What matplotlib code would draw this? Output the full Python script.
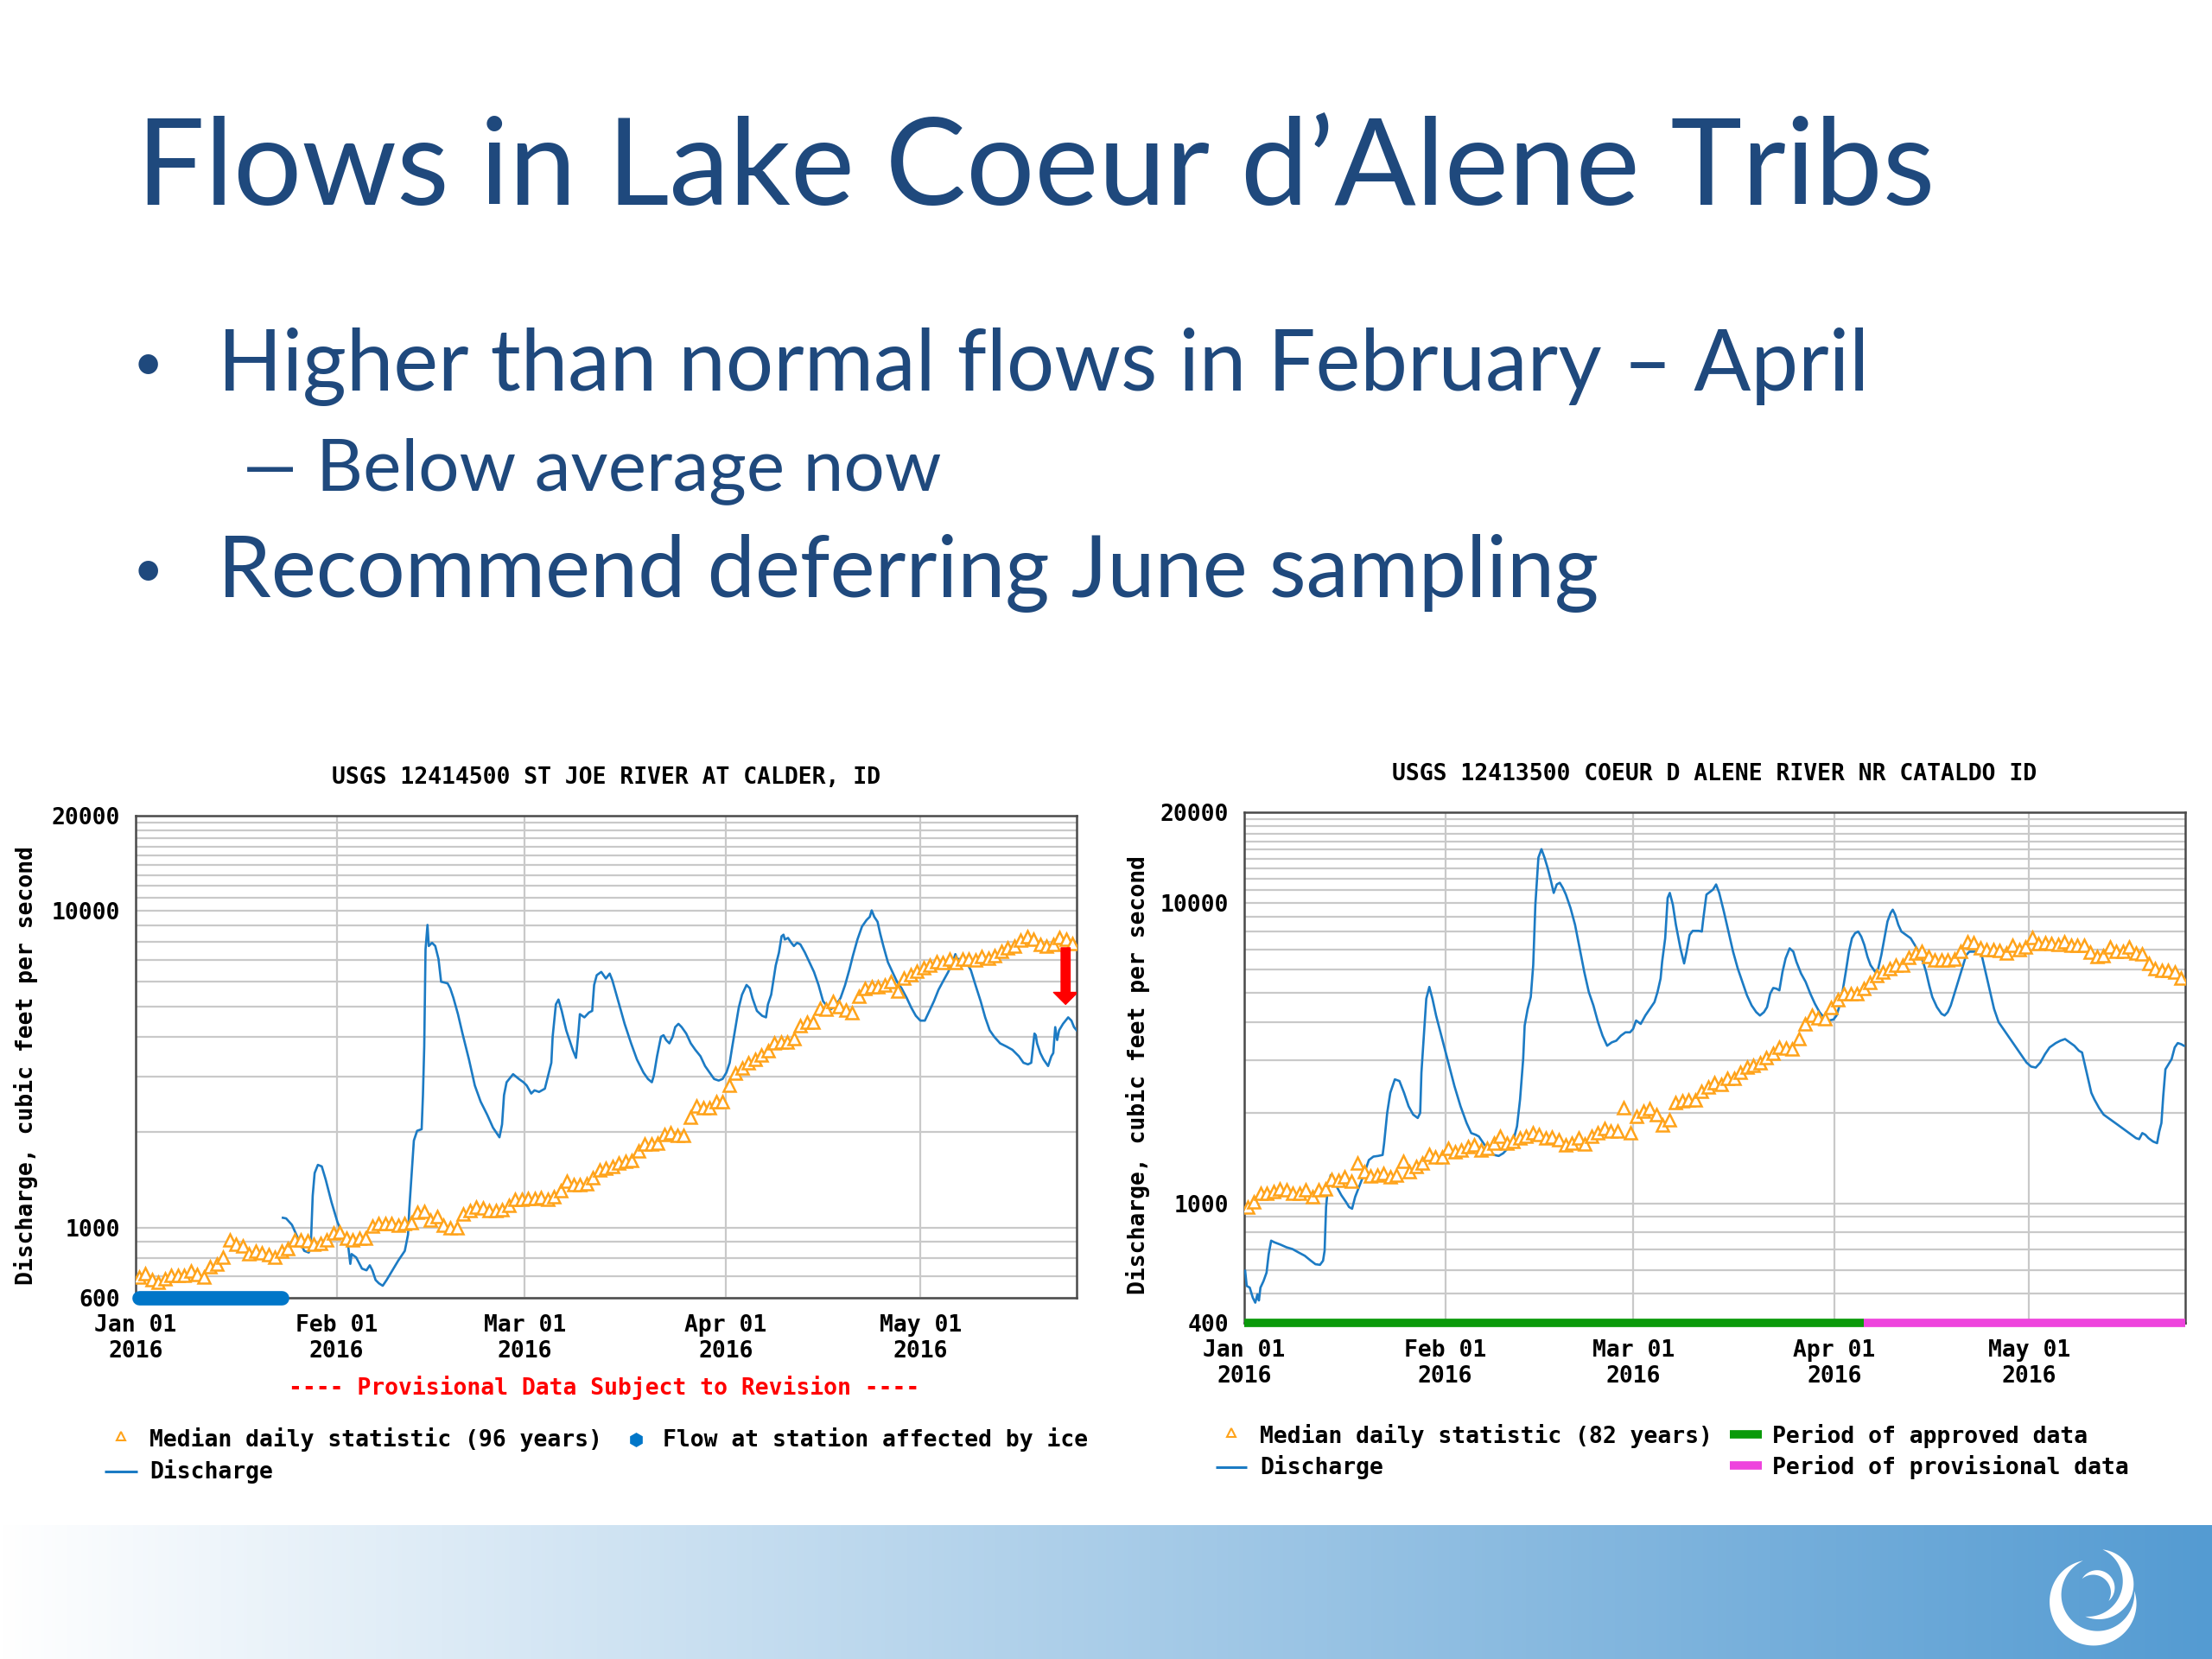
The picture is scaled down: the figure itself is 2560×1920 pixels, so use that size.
import numpy as np
import matplotlib
matplotlib.use("Agg")
import matplotlib.pyplot as plt
from matplotlib.lines import Line2D
from matplotlib.patches import Polygon, FancyArrowPatch, ArrowStyle
from matplotlib.ticker import NullFormatter

W, H = 2560, 1920

# slide text
SLIDE_TITLE = "Flows in Lake Coeur d\u2019Alene Tribs"
BULLET_1 = "Higher than normal flows in February \u2013 April"
SUB_BULLET = "Below average now"
BULLET_2 = "Recommend deferring June sampling"

# shared time axis (days since Jan 01 2016)
MONTH_DAYS = [0, 31, 60, 91, 121]
MONTH_LABELS = ["Jan 01\n2016", "Feb 01\n2016", "Mar 01\n2016", "Apr 01\n2016", "May 01\n2016"]
LAST_DAY = 145.1

# St Joe River at Calder
STJOE_TITLE = "USGS 12414500 ST JOE RIVER AT CALDER, ID"
STJOE_Q_DAY = [
    22.7, 23.2, 24.1, 25.0, 26.0, 26.7, 27.0, 27.3, 27.6, 28.1,
    28.7, 29.3, 30.2, 31.1, 32.1, 32.8, 33.1, 33.3, 34.0, 34.9,
    35.6, 36.1, 36.5, 37.0, 37.5, 38.1, 38.7, 39.6, 40.5, 41.5,
    42.0, 42.2, 42.5, 42.9, 43.4, 44.1, 44.3, 44.5, 44.7, 45.0,
    45.2, 45.7, 46.2, 46.7, 47.1, 48.1, 48.5, 49.0, 49.7, 50.4,
    51.4, 52.3, 53.2, 54.2, 55.1, 56.1, 56.5, 56.8, 57.2, 58.2,
    59.1, 59.8, 60.3, 61.0, 61.5, 62.2, 63.1, 64.1, 64.3, 64.8,
    65.2, 65.7, 66.4, 67.4, 67.9, 68.3, 68.5, 69.2, 69.9, 70.4,
    70.7, 71.1, 71.8, 72.5, 73.1, 73.5, 74.0, 74.7, 75.4, 76.4,
    77.3, 78.3, 79.0, 79.6, 79.9, 80.4, 81.0, 81.4, 81.8, 82.3,
    82.8, 83.2, 83.7, 84.2, 84.9, 85.6, 86.3, 87.1, 87.8, 88.5,
    89.2, 89.9, 90.5, 91.1, 91.6, 92.0, 92.5, 93.0, 93.5, 94.2,
    94.7, 95.1, 95.8, 96.6, 97.2, 97.5, 98.0, 98.7, 99.2, 99.6,
    99.9, 100.1, 100.6, 101.1, 101.5, 102.0, 102.5, 103.2, 103.9, 104.6,
    105.3, 106.0, 106.8, 107.2, 107.9, 108.7, 109.4, 110.1, 110.6, 111.3,
    112.0, 112.7, 113.2, 113.5, 113.9, 114.4, 114.8, 115.3, 116.0, 116.7,
    117.4, 118.1, 118.9, 119.6, 120.3, 121.0, 121.7, 122.4, 123.1, 123.8,
    124.6, 125.3, 126.0, 126.4, 126.7, 127.4, 128.1, 128.8, 129.5, 130.3,
    131.0, 131.7, 132.4, 133.3, 134.3, 135.2, 136.2, 136.9, 137.6, 138.1,
    138.6, 138.8, 139.0, 139.5, 140.0, 140.7, 141.2, 141.5, 141.8, 142.1,
    142.4, 143.0, 143.8, 144.3, 144.7, 145.1,
]
STJOE_Q = [
    1074, 1069, 1020, 928, 844, 834, 865, 1261, 1487, 1578,
    1560, 1419, 1203, 1044, 928, 865, 768, 825, 805, 742,
    733, 760, 733, 683, 667, 655, 683, 733, 787, 844,
    950, 1147, 1419, 1883, 2021, 2045, 2619, 3730, 7568, 9035,
    7750, 7934, 7750, 7052, 5978, 5908, 5704, 5314, 4722, 4101,
    3395, 2811, 2499, 2274, 2069, 1928, 2118, 2619, 2878, 3052,
    2947, 2878, 2811, 2651, 2714, 2682, 2746, 3316, 4005, 5069,
    5252, 4836, 4198, 3643, 3435, 4198, 4722, 4613, 4778, 4836,
    5839, 6269, 6420, 6120, 6342, 6047, 5569, 4951, 4401, 3819,
    3395, 3089, 2947, 2878, 3017, 3476, 4005, 4052, 3912, 3819,
    4005, 4297, 4401, 4297, 4101, 3819, 3643, 3476, 3238, 3089,
    2947, 2913, 2947, 3089, 3316, 3730, 4297, 4951, 5440, 5839,
    5704, 5314, 4836, 4667, 4613, 5069, 5440, 6727, 7392, 8318,
    8417, 8126, 8222, 7934, 7750, 7934, 7843, 7392, 6888, 6420,
    5839, 5190, 4951, 4893, 5009, 5314, 5839, 6570, 7221, 8126,
    8928, 9359, 9583, 10044, 9583, 9250, 8500, 7750, 6888, 6420,
    5978, 5704, 5314, 4951, 4667, 4505, 4505, 4836, 5190, 5636,
    6047, 6420, 6888, 7306, 7052, 7052, 6888, 6494, 5839, 5190,
    4613, 4198, 4005, 3819, 3730, 3643, 3476, 3316, 3277, 3316,
    4101, 4052, 3819, 3559, 3395, 3238, 3476, 3559, 4297, 3912,
    4198, 4401, 4613, 4505, 4297, 4198,
]
# median daily statistic, one value per day from Jan 01
STJOE_MEDIAN = [
    699, 716, 686, 670, 691, 707, 707, 707, 730, 713,
    696, 750, 765, 805, 917, 885, 875, 825, 844, 834,
    821, 805, 840, 860, 917, 917, 906, 885, 889, 917,
    961, 968, 928, 917, 928, 928, 1008, 1032, 1032, 1032,
    1020, 1032, 1039, 1115, 1126, 1056, 1081, 1020, 996, 996,
    1107, 1134, 1161, 1152, 1134, 1134, 1142, 1175, 1226, 1231,
    1237, 1237, 1246, 1231, 1255, 1306, 1402, 1369, 1369, 1379,
    1435, 1522, 1540, 1560, 1596, 1615, 1634, 1746, 1839, 1839,
    1848, 1964, 1996, 1950, 1950, 2231, 2428, 2394, 2394, 2498,
    2498, 2810, 3074, 3200, 3316, 3395, 3517, 3627, 3819, 3865,
    3865, 3958, 4348, 4452, 4452, 4927, 4892, 5165, 4974, 4858,
    4778, 5377, 5677, 5757, 5771, 5839, 5978, 5597, 6119, 6297,
    6448, 6601, 6760, 6921, 6887, 7052, 6887, 7052, 7052, 7018,
    7186, 7085, 7219, 7479, 7657, 7750, 8086, 8318, 8123, 7843,
    7750, 7843, 8221, 8162, 7897,
]
STJOE_ICE = (0.5, 22.5)
STJOE_ARROW = (143.4, 7650, 5070)

# Coeur d'Alene River near Cataldo
CDA_TITLE = "USGS 12413500 COEUR D ALENE RIVER NR CATALDO ID"
CDA_Q_DAY = [
    0.14, 0.38, 0.85, 1.32, 1.70, 2.03, 2.26, 2.50, 2.97, 3.44,
    3.77, 4.15, 4.62, 5.56, 6.50, 7.44, 8.38, 9.33, 10.27, 10.98,
    11.68, 12.15, 12.39, 12.62, 12.86, 13.33, 13.80, 14.27, 14.98, 15.69,
    16.16, 16.63, 17.10, 17.81, 18.51, 19.22, 19.92, 20.63, 21.34, 21.57,
    22.04, 22.52, 23.22, 23.93, 24.64, 25.34, 26.05, 26.75, 27.13, 27.32,
    27.79, 28.07, 28.54, 29.02, 29.58, 30.52, 31.47, 32.41, 33.35, 34.29,
    35.00, 35.70, 36.18, 36.88, 37.59, 38.53, 39.24, 39.94, 40.89, 41.59,
    42.06, 42.53, 43.01, 43.24, 43.71, 44.18, 44.56, 44.89, 45.36, 45.83,
    46.30, 46.77, 47.24, 47.72, 48.19, 48.66, 49.13, 49.60, 50.31, 51.01,
    51.72, 52.43, 53.13, 53.84, 54.55, 55.25, 55.96, 56.67, 57.37, 58.08,
    58.79, 59.49, 59.96, 60.43, 61.14, 61.85, 62.55, 63.26, 63.73, 64.20,
    64.44, 64.91, 65.29, 65.62, 66.09, 66.56, 67.26, 67.83, 68.21, 68.68,
    69.15, 70.09, 70.56, 70.80, 71.27,
    72.29, 72.76, 73.24, 73.95, 74.67, 75.38, 76.10, 76.81, 77.52, 78.24,
    78.95, 79.52, 80.14, 80.62, 81.10, 81.57, 82.05, 82.52, 83.00, 83.48,
    84.10, 84.67, 85.14, 85.86, 86.57, 87.29, 88.00, 88.71, 89.43, 90.14,
    90.86, 91.33, 91.81, 92.29, 92.76, 93.24, 93.71, 94.19, 94.67, 95.14,
    95.62, 96.10, 96.57, 97.29, 97.76, 98.24, 98.71, 99.19, 99.67, 100.0,
    100.38, 100.86, 101.33, 102.05, 102.76, 103.24, 103.71, 104.19, 104.67, 105.14,
    105.62, 106.10, 106.81, 107.52, 108.0, 108.48, 108.95, 109.43, 109.90, 110.38,
    110.86, 111.33, 111.81, 112.52, 113.24, 113.71, 114.19, 114.67, 115.14, 115.62,
    116.33, 117.05, 117.76, 118.48, 119.19, 119.90, 120.62, 121.33, 122.05, 122.76,
    123.48, 124.19, 125.14, 125.86, 126.57, 127.29, 128.0, 128.71, 129.19, 129.67,
    130.14, 130.62, 131.10, 131.81, 132.52, 133.24, 133.95, 134.67, 135.38, 136.10,
    136.81, 137.52, 138.0, 138.48, 138.95, 139.43, 140.14, 140.76, 141.10, 141.43,
    141.71, 142.05, 142.52, 143.0, 143.48, 143.95, 144.43, 144.90,
]
CDA_Q = [
    596, 531, 524, 485, 467, 498, 475, 524, 551, 588,
    678, 751, 742, 729, 714, 704, 686, 669, 644, 627,
    624, 644, 695, 972, 1105, 1241, 1209, 1134, 1063, 1010,
    972, 959, 1050, 1149, 1257, 1393, 1430, 1437, 1448, 1585,
    1997, 2331, 2584, 2551, 2331, 2103, 1972, 1922, 1997, 2721,
    3902, 4793, 5245, 4793, 4214, 3519, 2940, 2455, 2103, 1849,
    1712, 1690, 1668, 1585, 1505, 1448, 1437, 1467, 1544, 1647,
    1803, 2214, 3016, 3902, 4436, 4855, 6201, 9853, 14130, 15070,
    14130, 13080, 11950, 10780, 11500, 11650, 11200, 10640, 9603, 8444,
    7050, 5888, 5046, 4552, 4003, 3611, 3343, 3430, 3475, 3611,
    3705, 3705, 3802, 4055, 3951, 4214, 4436, 4671, 5046, 5593,
    6362, 7617, 10370, 10780, 9853, 8444, 7050, 6280, 6871, 7816,
    8061, 8061, 8018, 8888, 10640,
    11060, 11500, 10780, 9359, 8018, 6871, 6042, 5451, 4918, 4552,
    4324, 4214, 4324, 4494, 4981, 5203, 5177, 5110, 5888, 6527,
    7050, 6871, 6362, 5813, 5451, 4981, 4610, 4324, 4140, 4055,
    4086, 4214, 4552, 5110, 5888, 6871, 7617, 7914, 8018, 7716,
    7234, 6611, 6201, 5888, 6042, 6697, 7617, 8662, 9239, 9480,
    9120, 8444, 8018, 7816, 7617, 7328, 7050, 6697, 6362, 5888,
    5313, 4855, 4494, 4269, 4214, 4324, 4552, 4918, 5313, 5739,
    6201, 6697, 6871, 6871, 6871, 6697, 6042, 5451, 4918, 4436,
    4003, 3802, 3611, 3430, 3258, 3094, 2940, 2850, 2828, 2940,
    3134, 3300, 3412, 3475, 3519, 3430, 3343, 3217, 3175, 2864,
    2584, 2331, 2214, 2077, 1972, 1922, 1874, 1826, 1779, 1734,
    1690, 1647, 1634, 1712, 1690, 1647, 1605, 1585, 1734, 1849,
    2272, 2791, 2901, 3016, 3300, 3412, 3386, 3343,
]
CDA_MEDIAN = [
    972, 1010, 1083, 1077, 1091, 1119, 1105, 1083, 1077, 1111,
    1050, 1111, 1119, 1200, 1194, 1225, 1188, 1358, 1273, 1231,
    1241, 1257, 1225, 1241, 1375, 1273, 1323, 1358, 1459, 1430,
    1422, 1525, 1486, 1505, 1544, 1564, 1505, 1525, 1585, 1668,
    1585, 1605, 1647, 1668, 1721, 1690, 1647, 1660, 1626, 1564,
    1585, 1647, 1577, 1668, 1712, 1779, 1734, 1734, 2077, 1712,
    1947, 2024, 2060, 1972, 1826, 1898, 2158, 2186, 2203, 2214,
    2362, 2442, 2518, 2486, 2597, 2611, 2721, 2843, 2880, 2940,
    3055, 3159, 3300, 3274, 3258, 3519, 3951, 4214, 4128, 4107,
    4494, 4769, 4969, 4981, 4981, 5177, 5423, 5710, 5888, 6042,
    6184, 6201, 6559, 6783, 6871, 6611, 6443, 6443, 6443, 6494,
    6871, 7423, 7385, 7088, 6962, 6962, 6943, 6783, 7198, 6962,
    7124, 7656, 7328, 7385, 7328, 7273, 7423, 7234, 7234, 7234,
    6835, 6611, 6663, 7142, 6871, 6908, 7142, 6783, 6766, 6280,
    6042, 5965, 5950, 5859, 5593,
]
CDA_APPROVED_END = 95.5

TEXT_BLUE = "#1f497d"
Q_BLUE = "#1c7bc4"
MED_ORANGE = "#ffa31a"
GRID = "#c9c9c9"
MONO = dict(family="DejaVu Sans Mono", weight="bold", fontsize=19)


def fx(x):
    return x / W


def fy(y):
    return 1 - y / H


fig = plt.figure(figsize=(25.6, 19.2), dpi=100)
fig.patch.set_facecolor("white")
renderer = fig.canvas.get_renderer()


# text scaled so it spans a given pixel width
def fit_text(x, base, s, width, **kw):
    t = fig.text(fx(x), fy(base), s, fontsize=100, va="baseline", ha="left",
                 family="Lato", color=TEXT_BLUE, **kw)
    w = t.get_window_extent(renderer).width
    t.set_fontsize(100 * width / w)
    return t


fit_text(158, 237, SLIDE_TITLE, 2082)
b1 = fit_text(252, 452, BULLET_1, 1912)
sb = fit_text(366, 567, SUB_BULLET, 723)
b2 = fit_text(252, 691, BULLET_2, 1598)
# bullets are smaller than the text in the slide
for t, base in ((b1, 452), (b2, 691)):
    fig.text(fx(171), fy(base - 12), "\u2022", fontsize=t.get_fontsize() * 0.62,
             family="Lato", color=TEXT_BLUE, ha="center", va="baseline")
fig.text(fx(281), fy(567), "\u2014", fontsize=sb.get_fontsize() * 0.95, family="Lato",
         color=TEXT_BLUE, ha="left", va="baseline")


# USGS style discharge panel
def usgs_panel(box, ymin, yticks, minor, title, q_day, q, median, ylabel_xy):
    left, top, right, bottom = box
    ax = fig.add_axes([fx(left), fy(bottom), (right - left) / W, (bottom - top) / H])
    ax.set_yscale("log")
    ax.set_ylim(ymin, 20000)
    ax.set_xlim(0, LAST_DAY)
    ax.set_yticks(yticks, [str(v) for v in yticks])
    ax.set_yticks(minor, minor=True)
    ax.yaxis.set_minor_formatter(NullFormatter())
    ax.set_xticks(MONTH_DAYS, MONTH_LABELS)
    ax.tick_params(which="both", length=0)
    ax.tick_params(axis="y", pad=13)
    ax.tick_params(axis="x", pad=13.5)
    for lab in ax.get_xticklabels() + ax.get_yticklabels():
        lab.set_fontfamily(MONO["family"])
        lab.set_fontweight(MONO["weight"])
        lab.set_fontsize(MONO["fontsize"])
    for lab in ax.get_xticklabels():
        lab.set_linespacing(1.2)
    ax.grid(True, which="both", axis="y", color=GRID, lw=1.6)
    ax.grid(True, which="major", axis="x", color=GRID, lw=1.6)
    ax.set_axisbelow(True)
    for sp in ax.spines.values():
        sp.set_color("#4a4a4a")
        sp.set_linewidth(1.8)
    n = min(len(q_day), len(q))
    ax.plot(q_day[:n], q[:n], color=Q_BLUE, lw=1.9, zorder=3)
    days = np.arange(len(median)) + 0.5
    ax.plot(days, median, ls="none", marker="^", ms=9.5, mfc="white",
            mec=MED_ORANGE, mew=1.8, zorder=4)
    ax.text(0.5, 1 + 44 / (bottom - top), title, transform=ax.transAxes,
            ha="center", va="center", **MONO)
    ax.set_ylabel("Discharge, cubic feet per second", **MONO)
    ax.yaxis.set_label_coords(*ylabel_xy)
    return ax


decade = [2000, 3000, 4000, 5000, 6000, 7000, 8000, 9000]
upper = [11000, 12000, 13000, 14000, 15000, 16000, 17000, 18000, 19000]

ax1 = usgs_panel((157, 944, 1246, 1502), 600, [600, 1000, 10000, 20000],
                 [700, 800, 900] + decade + upper, STJOE_TITLE,
                 STJOE_Q_DAY, STJOE_Q, STJOE_MEDIAN, (-0.104, 0.482))
ax1.plot(STJOE_ICE, [600, 600], color="#0076c8", lw=12, solid_capstyle="round",
         clip_on=False, zorder=5)
arrow = FancyArrowPatch((STJOE_ARROW[0], STJOE_ARROW[1]), (STJOE_ARROW[0], STJOE_ARROW[2]),
                        arrowstyle=ArrowStyle.Simple(head_length=10, head_width=20, tail_width=7.5),
                        mutation_scale=1, color="#ff0000", shrinkA=0, shrinkB=0, zorder=6)
ax1.add_patch(arrow)

ax2 = usgs_panel((1440, 940, 2529, 1531), 400, [400, 1000, 10000, 20000],
                 [500, 600, 700, 800, 900] + decade + upper, CDA_TITLE,
                 CDA_Q_DAY, CDA_Q, CDA_MEDIAN, (-0.100, 0.486))
ax2.plot([0, CDA_APPROVED_END], [400, 400], color="#0a9a0a", lw=7,
         solid_capstyle="butt", clip_on=False, zorder=5)
ax2.plot([CDA_APPROVED_END, LAST_DAY], [400, 400], color="#ee44dd", lw=7,
         solid_capstyle="butt", clip_on=False, zorder=5)

fig.text(fx(699), fy(1606), "---- Provisional Data Subject to Revision ----",
         color="#ff0000", ha="center", va="center", **MONO)


# hand-placed legends under each panel
def leg_text(x, y, s):
    fig.text(fx(x), fy(y), s, ha="left", va="center", **MONO)


def leg_marker(x, y, **kw):
    fig.add_artist(Line2D([fx(x)], [fy(y)], transform=fig.transFigure, ls="none", **kw))


def leg_line(x0, x1, y, color, lw):
    fig.add_artist(Line2D([fx(x0), fx(x1)], [fy(y), fy(y)], transform=fig.transFigure,
                          color=color, lw=lw, solid_capstyle="butt"))


leg_marker(140, 1662, marker="^", ms=7, mfc="white", mec=MED_ORANGE, mew=1.5)
leg_text(173, 1666, "Median daily statistic (96 years)")
leg_marker(736, 1666, marker="h", ms=11, color="#0076c8")
leg_text(767, 1666, "Flow at station affected by ice")
leg_line(121, 159, 1703, Q_BLUE, 2.2)
leg_text(173, 1703, "Discharge")

leg_marker(1425, 1658, marker="^", ms=7, mfc="white", mec=MED_ORANGE, mew=1.5)
leg_text(1458, 1662, "Median daily statistic (82 years)")
leg_line(2002, 2039, 1660, "#0a9a0a", 7)
leg_text(2051, 1662, "Period of approved data")
leg_line(1407, 1443, 1698, Q_BLUE, 2.2)
leg_text(1458, 1698, "Discharge")
leg_line(2002, 2039, 1696, "#ee44dd", 7)
leg_text(2051, 1698, "Period of provisional data")

# footer band with gradient and logo
band = fig.add_axes([0, 0, 1, 155 / H])
ramp = np.linspace(0, 1, 600)
c0 = np.array([1.0, 1.0, 1.0])
c1 = np.array([84, 155, 210]) / 255
grad = c0[None, :] * (1 - ramp[:, None]) + c1[None, :] * ramp[:, None]
band.imshow(grad[None, :, :], extent=[0, W, H, H - 155], aspect="auto")
band.set_xlim(0, W)
band.set_ylim(H, H - 155)
band.axis("off")


def crescent(cx, cy, r, t0, t1, w):
    th = np.radians(np.linspace(t0, t1, 90))
    wid = w * np.sin(np.linspace(0, np.pi, 90))
    ro, ri = r + wid / 2, r - wid / 2
    xs = np.concatenate([cx + ro * np.cos(th), (cx + ri * np.cos(th))[::-1]])
    ys = np.concatenate([cy - ro * np.sin(th), (cy - ri * np.sin(th))[::-1]])
    band.add_patch(Polygon(np.column_stack([xs, ys]), closed=True, color="white", lw=0))


crescent(2425, 1850, 46, 108, 371, 18)
crescent(2423, 1832, 40, 75, -104, 13)
crescent(2425, 1840, 20, 140, -40, 7)

fig.savefig("out.png", dpi=100, facecolor="white")
